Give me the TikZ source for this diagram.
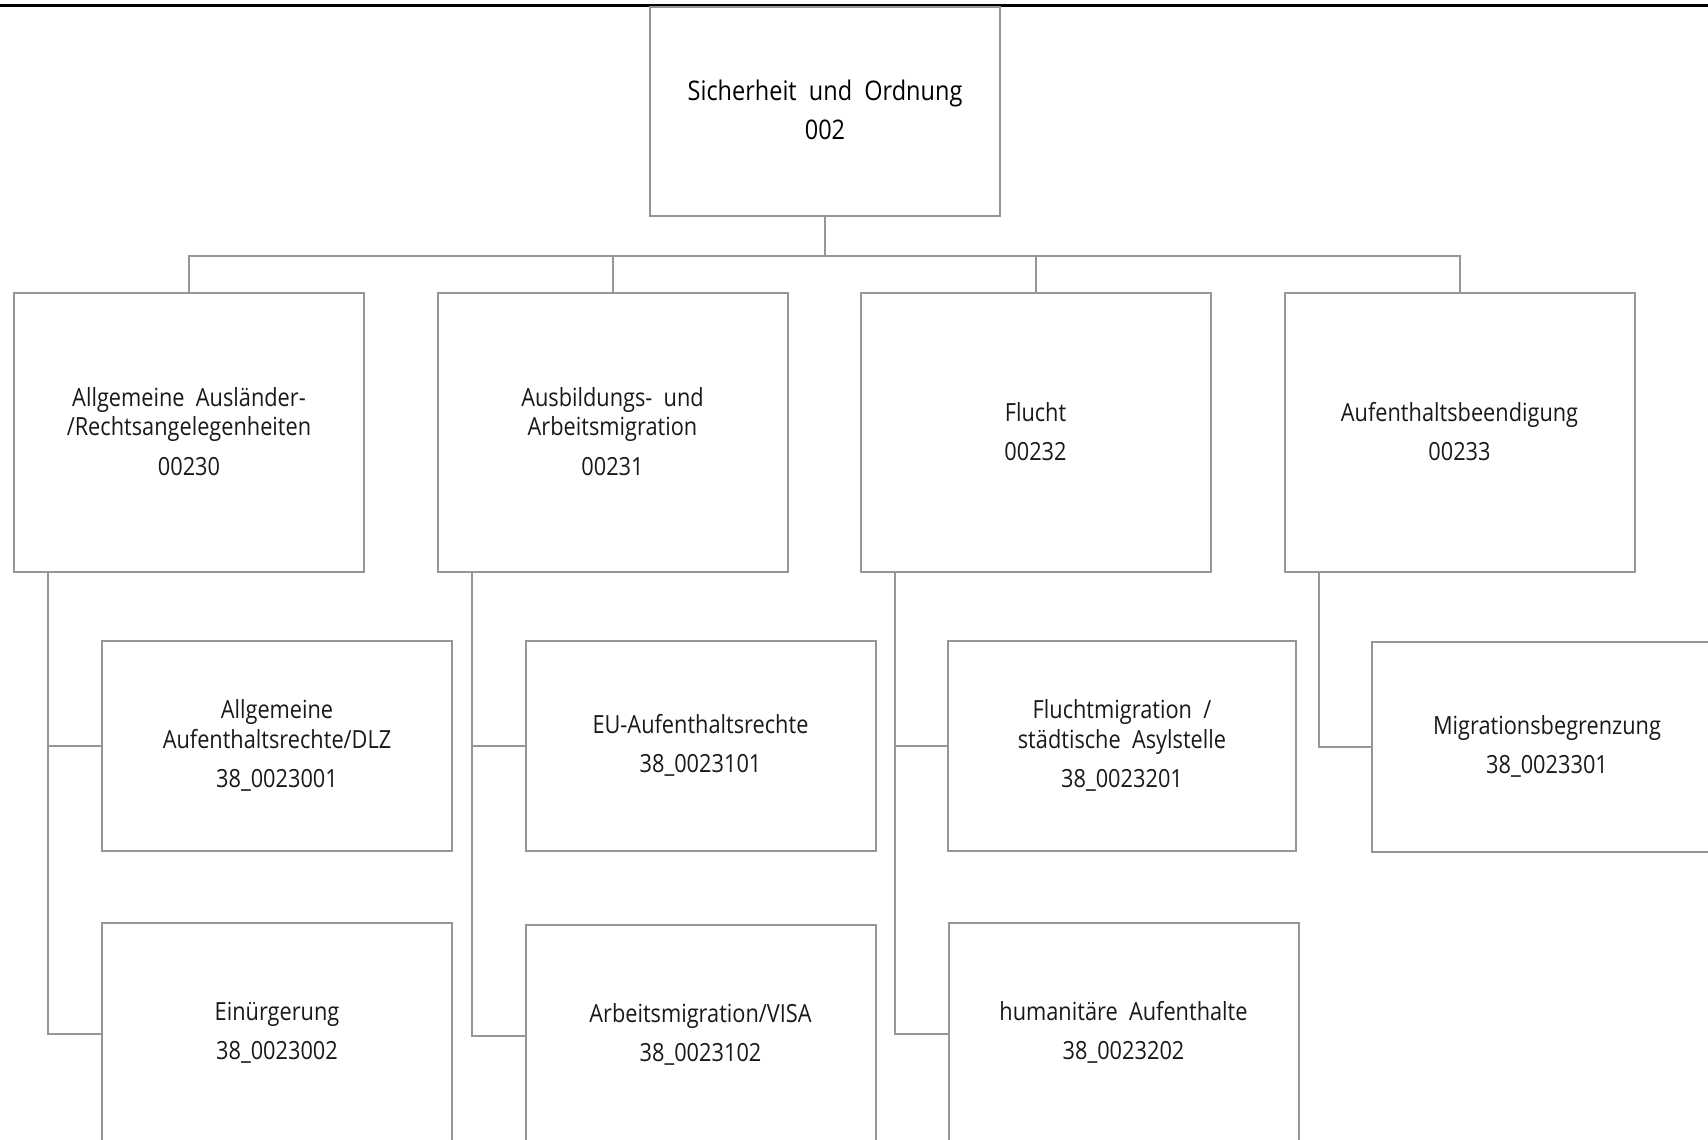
\documentclass[tikz,border=0pt]{standalone}
\usepackage{fontspec}
\setmainfont{Open Sans}[FakeStretch=0.87]
\definecolor{linegray}{RGB}{150,150,150}
\newcommand{\boxtext}[2]{\raisebox{#1}[\height][\depth]{\begin{tabular}{@{}c@{}}#2\end{tabular}}}
\begin{document}
\begin{tikzpicture}[x=0.5pt,y=-0.5pt,
  box/.style={draw=linegray,line width=1pt,rectangle,minimum width=175pt,inner sep=0pt,align=center,
    font=\fontsize{12.5}{14.7}\selectfont,text=black!90},
  topbox/.style={box,minimum height=104.5pt,text=black,font=\fontsize{13.5}{14.7}\selectfont},
  lone/.style={box,minimum height=139.5pt},
  subone/.style={box,minimum height=105pt},
  subtwo/.style={box,minimum height=111pt},
  conn/.style={draw=linegray,line width=1pt}]
\clip (0,0) rectangle (1708,1140);
\fill[white] (0,0) rectangle (1708,1140);
\draw[line width=1.3pt] (0,5.7) -- (1708,5.7);

\node[topbox] (top) at (825,111.5) {\boxtext{-1.4pt}{Sicherheit\ \ und\ \ Ordnung\\[4.8pt]002}};
\coordinate (bus) at (825,256);

\node[lone] (b1) at (189,432.5) {\boxtext{-1.2pt}{Allgemeine\ \ Ausländer-\\/Rechtsangelegenheiten\\[5pt]00230}};
\node[lone] (b2) at (612.5,432.5) {\boxtext{-1.2pt}{Ausbildungs-\ \ und\\Arbeitsmigration\\[5pt]00231}};
\node[lone] (b3) at (1035.5,432.5) {\boxtext{-1.2pt}{Flucht\\[5pt]00232}};
\node[lone] (b4) at (1459.5,432.5) {\boxtext{-1.2pt}{Aufenthaltsbeendigung\\[5pt]00233}};

\node[subone] (s11) at (277,746) {\boxtext{-0.6pt}{Allgemeine\\Aufenthaltsrechte/DLZ\\[5pt]38\_0023001}};
\node[subone] (s21) at (700.5,746) {\boxtext{-0.6pt}{EU-Aufenthaltsrechte\\[5pt]38\_0023101}};
\node[subone,minimum width=173.75pt] (s31) at (1122,746) {\boxtext{-0.6pt}{Fluchtmigration\ \ /\\städtische\ \ Asylstelle\\[5pt]38\_0023201}};
\node[subone] (s41) at (1547,747) {\boxtext{-0.6pt}{Migrationsbegrenzung\\[5pt]38\_0023301}};

\node[subtwo] (s12) at (277,1034) {\boxtext{-0.2pt}{Einürgerung\\[5pt]38\_0023002}};
\node[subtwo] (s22) at (700.5,1036) {\boxtext{-0.2pt}{Arbeitsmigration/VISA\\[5pt]38\_0023102}};
\node[subtwo] (s32) at (1123.5,1034) {\boxtext{-0.2pt}{humanitäre\ \ Aufenthalte\\[5pt]38\_0023202}};

\draw[conn] (top.south) -- (bus);
\foreach \b in {b1,b2,b3,b4} {\draw[conn] (\b.north) |- (bus);}

\draw[conn] ([xshift=17.5pt]b1.south west) |- (s11.west);
\draw[conn] ([xshift=17.5pt]b1.south west) |- (s12.west);
\draw[conn] ([xshift=17.5pt]b2.south west) |- (s21.west);
\draw[conn] ([xshift=17.5pt]b2.south west) |- (s22.west);
\draw[conn] ([xshift=17.5pt]b3.south west) |- (s31.west);
\draw[conn] ([xshift=17.5pt]b3.south west) |- (s32.west);
\draw[conn] ([xshift=17.5pt]b4.south west) |- (s41.west);
\end{tikzpicture}
\end{document}
